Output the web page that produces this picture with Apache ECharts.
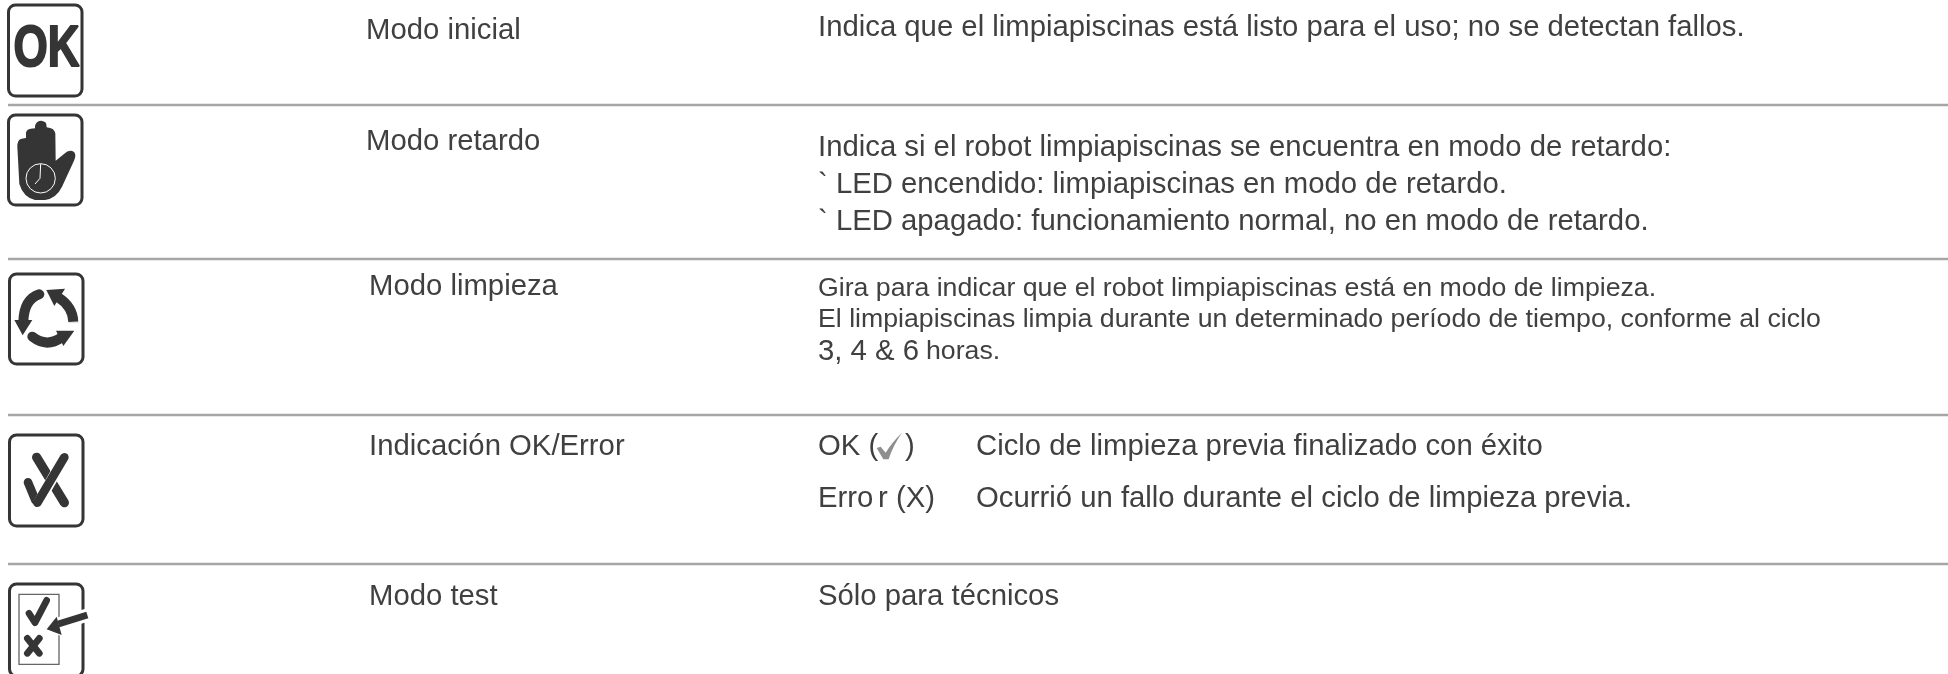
<!DOCTYPE html>
<html><head><meta charset="utf-8">
<style>html,body{margin:0;padding:0;background:#fff}#c{width:1948px;height:674px}</style>
<script src="https://cdn.jsdelivr.net/npm/echarts@6/dist/echarts.min.js"></script>
</head><body><div id="c"></div>
<script>
const modeNames = ['Modo inicial','Modo retardo','Modo limpieza','Indicación OK/Error','Modo test'];
const descInicial = ['Indica que el limpiapiscinas está listo para el uso; no se detectan fallos.'];
const descRetardo = ['Indica si el robot limpiapiscinas se encuentra en modo de retardo:','` LED encendido: limpiapiscinas en modo de retardo.','` LED apagado: funcionamiento normal, no en modo de retardo.'];
const descLimpieza = ['Gira para indicar que el robot limpiapiscinas está en modo de limpieza.','El limpiapiscinas limpia durante un determinado período de tiempo, conforme al ciclo'];
const cicloNums = '3, 4 & 6', cicloUnit = 'horas.';
const okLabels = ['OK (',')','Erro','r (X)'];
const okTexts = ['Ciclo de limpieza previa finalizado con éxito','Ocurrió un fallo durante el ciclo de limpieza previa.'];
const descTest = ['Sólo para técnicos'];
const iconOkLabel = 'OK';

const INK='#404040', DARK='#353535', F='"Liberation Sans",Arial,sans-serif', S=29.3, s=26.7;
const txt=(text,x,y,size,extra)=>Object.assign({type:'text',x,y,style:{text,fill:INK,font:size+'px '+F,textVerticalAlign:'middle',textBaseline:'middle'}},extra||{});
const rule=(y,c)=>({type:'line',shape:{x1:8,y1:y,x2:1948,y2:y},style:{stroke:c,lineWidth:2.5}});
const g=[
 rule(105,'#a6a6a6'),rule(259,'#a6a6a6'),rule(415,'#a6a6a6'),rule(564,'#a6a6a6'),
 txt(modeNames[0],366,31,S),txt(modeNames[1],366,142,S),txt(modeNames[2],369,287,S),txt(modeNames[3],369,447,S),txt(modeNames[4],369,597,S),
 txt(descInicial[0],818,28,S),
 txt(descRetardo[0],818,148,S),txt(descRetardo[1],818,185,S),txt(descRetardo[2],818,222,S),
 txt(descLimpieza[0],818,289,s),txt(descLimpieza[1],818,320,s),
 txt(cicloNums,818,352,S),txt(cicloUnit,926,352,s),
 txt(okLabels[0],818,447,S),txt(okLabels[1],905,447,S),txt(okLabels[2],818,499,S),txt(okLabels[3],878,499,S),
 txt(okTexts[0],976,447,S),txt(okTexts[1],976,499,S),
 txt(descTest[0],818,597,S),
 {type:'text',x:13.5,y:50,scaleX:0.76,z:5,style:{text:iconOkLabel,fill:DARK,stroke:DARK,lineWidth:2,font:'bold 58px '+F,textBaseline:'middle',textVerticalAlign:'middle'}}
];
const frame=(x,y,w,h)=>({type:'rect',shape:{x,y,width:w,height:h,r:7},style:{fill:'#fff',stroke:DARK,lineWidth:3}});
const pen=(pathData,lw,stroke,cap,fill)=>({type:'path',shape:{pathData},style:{fill:fill||'none',stroke:stroke||DARK,lineWidth:lw,lineCap:cap||'round',lineJoin:'round'}});
const solid=(pathData,fill)=>({type:'path',shape:{pathData},style:{fill:fill||DARK,stroke:'none'}});
const crop=(oy,children,ox)=>({type:'group',x:ox||0,y:oy,scaleX:1/3,scaleY:1/3,children});
const render=()=>({type:'group',children:[
 frame(8.5,5,73.5,91),frame(8.5,115,73.5,90),frame(9.5,274,73.5,90),frame(9.5,435,73.5,91),frame(9.5,584,73.5,92),
 crop(0,[
  solid('M52 440 Q52 418 65 416 L78 414 L78 398 Q80 388 92 386 L105 385 Q104 372 112 366 Q124 358 136 367 Q141 372 140 382 Q163 384 166 400 L167 482 L192 462 Q208 446 222 456 Q230 464 222 482 L186 560 Q170 594 135 600 L105 600 Q70 592 58 552 Z'),
  {type:'circle',shape:{cx:122,cy:535,r:44},style:{fill:'none',stroke:'#fff',lineWidth:3}},
  pen('M122 492 L120 535 L105 552',3,'#fff','butt')
 ]),
 crop(260,[
  pen('M118 103 Q72 118 70 185',30),
  solid('M43 180 L97 180 L68 226 Z'),
  pen('M175 112 Q218 140 220 185',30,DARK,'butt'),
  solid('M139 90 L195 86 L163 138 Z'),
  pen('M97 230 Q140 264 185 232',30,DARK,'round'),
  solid('M168 212 L223 212 L190 258 Z'),
  pen('M205 188 L236 188',3,'#ddd','butt')
 ]),
 crop(420,[
  pen('M84 187 L106 240',26),
  pen('M110 112 L193 248',28),
  pen('M193 112 L115 250',32,'#fff','butt'),
  pen('M193 112 L112 248',26),
  {type:'rect',shape:{x:57,y:523,width:120,height:210},style:{fill:'none',stroke:'#666',lineWidth:4}},
  pen('M262 585 L175 612',40,'#fff','butt'),
  solid('M130 630 L172 585 L190 650 Z','#fff'),
  pen('M87 580 L105 608 L140 541',20),
  pen('M82 655 L118 700 M118 655 L82 700',20),
  pen('M262 585 L175 612',21,DARK,'butt'),
  solid('M140 628 L170 590 L185 645 Z')
 ]),
 crop(420,[
  solid('M260 84 L272 80 L287 98 Q305 68 336 38 Q308 78 296 118 L280 118 Z','#8e8e8e')
 ],790)
]});
const chart=echarts.init(document.getElementById('c'),null,{renderer:'canvas'});
chart.setOption({animation:false,graphic:{elements:g},series:[{type:'custom',coordinateSystem:'none',silent:true,z:3,data:[[0]],renderItem:render}]});
</script></body></html>
